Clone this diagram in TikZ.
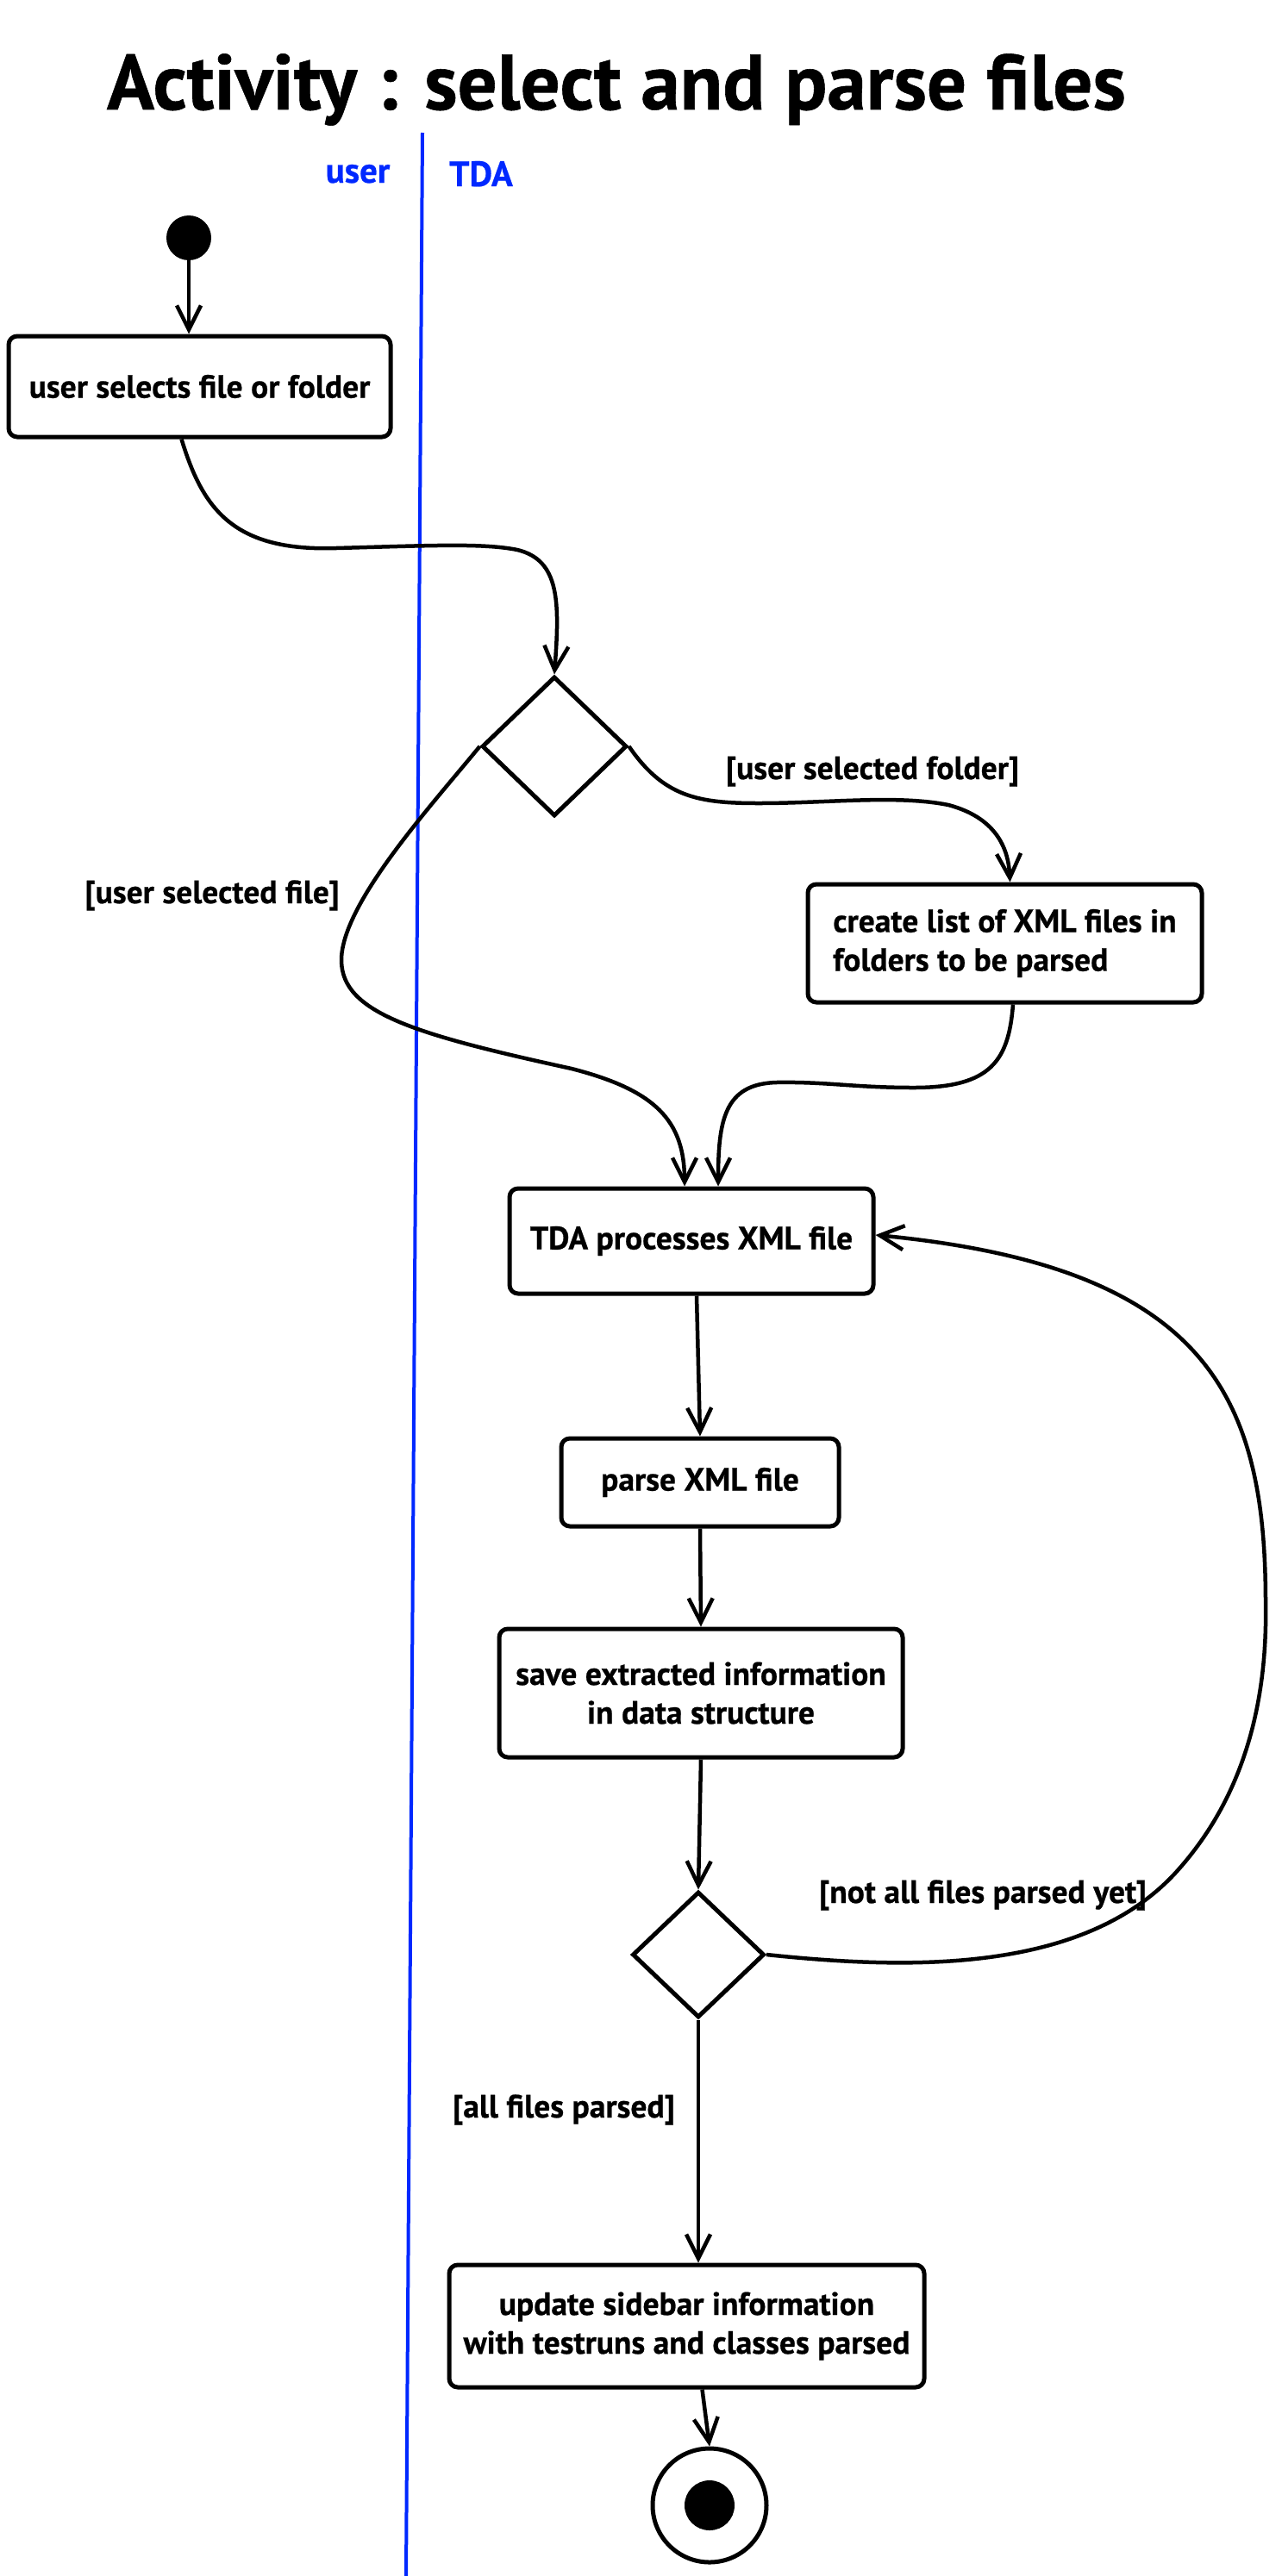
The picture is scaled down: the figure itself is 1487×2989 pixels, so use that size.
\documentclass[tikz,border=0pt]{standalone}
\usepackage{fontspec}
\setmainfont{PT Sans}[BoldFeatures={FakeBold=0.6}]
\usetikzlibrary{arrows.meta,shapes.geometric,calc}
\definecolor{lanecol}{RGB}{0,40,255}
\newcommand\actfont{\fontsize{37.5}{45}\selectfont\bfseries}
\newcommand\titlefont{\fontsize{91}{100}\selectfont\bfseries}
\newcommand\lanefont{\fontsize{41}{45}\selectfont\bfseries}
\begin{document}
\begin{tikzpicture}[x=1pt,y=-1pt,
  act/.style={draw, line width=5pt, rounded corners=10pt, font=\actfont, inner sep=0pt, align=center},
  decision/.style={draw, diamond, line width=5pt, inner sep=0pt},
  flow/.style={-{Straight Barb[length=28pt,width=28pt]}, line width=4.5pt},
  guard/.style={font=\actfont, inner sep=0pt, anchor=base},
  lanelabel/.style={font=\lanefont, text=lanecol, inner sep=0pt, anchor=base}]
\useasboundingbox[fill=white] (0,0) rectangle (1487,2989);
% title and swimlanes
\node[font=\titlefont, anchor=base, inner sep=0pt] (title) at (715,127) {Activity : select and parse files};
\draw[lanecol, line width=4pt] (490,154) -- (471,2989);
\node[lanelabel] (luser) at (415,212) {user};
\node[lanelabel] (ltda) at (558,216) {TDA};
% nodes
\node[circle, fill, inner sep=0pt, minimum size=52pt] (start) at (219,276) {};
\node[act, minimum width=443pt, minimum height=117pt] (b1) at (231.5,448.5) {user selects file or folder};
\node[decision, minimum width=168pt, minimum height=162pt] (d1) at (643,866) {};
\node[act, align=left, minimum width=457pt, minimum height=137pt] (b2) at (1165.5,1094.5) {create list of XML files in\\folders to be parsed};
\node[act, minimum width=422pt, minimum height=122pt] (b3) at (802,1440) {TDA processes XML file};
\node[act, minimum width=322pt, minimum height=102pt] (b4) at (812,1720) {parse XML file};
\node[act, minimum width=468pt, minimum height=149pt] (b5) at (813,1964.5) {save extracted information\\in data structure};
\node[decision, minimum width=153pt, minimum height=146pt] (d2) at (810,2268) {};
\node[act, minimum width=551pt, minimum height=142pt] (b6) at (796.5,2699) {update sidebar information\\with testruns and classes parsed};
\node[circle, draw, line width=5pt, inner sep=0pt, minimum size=132pt] (stop) at (823,2907) {};
\node[circle, fill, inner sep=0pt, minimum size=58pt] (stopdot) at (stop.center) {};
% guards
\node[guard] (g1) at (1012,904) {[user selected folder]};
\node[guard] (g2) at (246,1048) {[user selected file]};
\node[guard] (g3) at (1140,2208) {[not all files parsed yet]};
\node[guard] (g4) at (654,2457) {[all files parsed]};
% connectors
\draw[flow] (start.south) -- (start.south |- b1.north);
\draw[flow] ([xshift=-21pt]b1.south) .. controls (235,590) and (270,640) .. (390,636)
  .. controls (500,633) and (560,630) .. (600,638)
  .. controls (650,650) and (649,700) .. (d1.north);
\draw[flow] (d1.east) .. controls (770,925) and (810,932) .. (880,932)
  .. controls (960,932) and (1040,922) .. (1100,934)
  .. controls (1160,950) and (1170,990) .. ([xshift=6pt]b2.north);
\draw[flow] (d1.west) .. controls (500,935) and (395,1050) .. (396,1115)
  .. controls (397,1175) and (480,1200) .. (663,1240)
  .. controls (760,1265) and (794,1300) .. ([xshift=-8pt]b3.north);
\draw[flow] ([xshift=9.5pt]b2.south) .. controls (1170,1230) and (1150,1262) .. (1060,1262)
  .. controls (990,1262) and (960,1255) .. (900,1256)
  .. controls (840,1258) and (833,1300) .. ([xshift=31pt]b3.north);
\draw[flow] ([xshift=6pt]b3.south) -- (b4.north);
\draw[flow] (b4.south) -- (b5.north);
\draw[flow] (b5.south) -- (d2.north);
\draw[flow] (d2.south) -- (d2.south |- b6.north);
\draw[flow] ([xshift=18pt]b6.south) -- (stop.north);
\draw[flow] (d2.east) .. controls (1050,2285) and (1260,2292) .. (1368,2168)
  .. controls (1450,2075) and (1470,1960) .. (1468,1860)
  .. controls (1468,1620) and (1400,1470) .. ($(b3.east)+(0,-7)$);
\end{tikzpicture}
\end{document}
